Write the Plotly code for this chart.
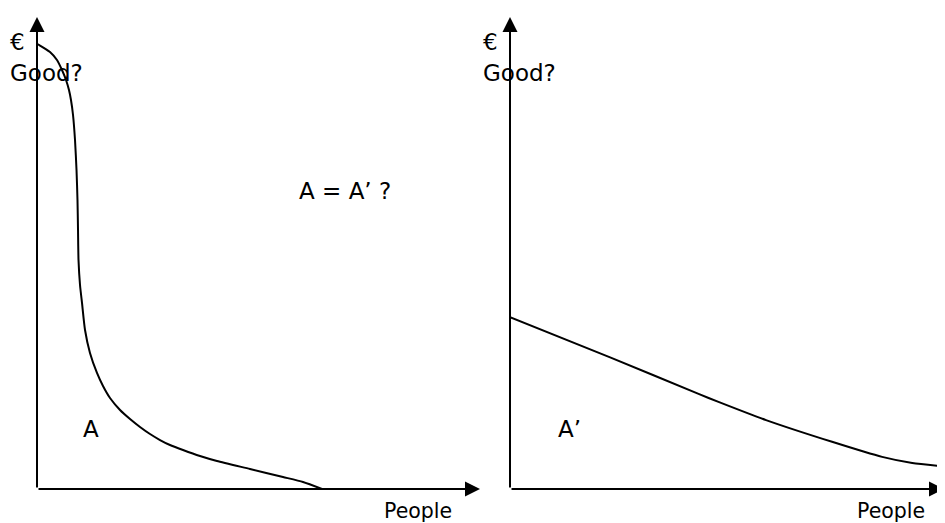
import plotly.graph_objects as go

# Left panel curve (A): steep drop then long tail
left_x = [0, 0.68, 2.93, 4.51, 5.64, 6.55, 7.22, 7.67, 8.13, 8.58, 8.92, 9.14, 9.26, 9.37, 9.71,
          10.16, 10.84, 11.96, 13.54, 14.90, 16.48, 18.74, 21.00, 23.25, 25.51, 27.77, 30.02,
          32.96, 36.79, 40.63, 48.08, 55.53, 60.05, 64.33]
left_y = [94.28, 93.96, 92.58, 90.89, 88.77, 86.65, 84.53, 82.42, 79.24, 73.94, 67.58, 61.23,
          54.87, 48.52, 43.22, 39.41, 33.69, 28.81, 24.58, 21.82, 19.28, 16.74, 14.83, 13.14,
          11.65, 10.38, 9.32, 8.26, 6.99, 5.93, 4.24, 2.54, 1.48, 0]

# Right panel curve (A'): gentle decline
right_x = [0, 22.6, 42.7, 47.2, 57.8, 72.7, 84.0, 90.8, 96.8]
right_y = [36.4, 27.9, 20.1, 18.4, 14.6, 10.0, 6.8, 5.5, 4.9]

y_label_top = "€"
y_label = "Good?"
x_label = "People"
area_left = "A"
area_right = "A’"
question = "A = A’ ?"

# page body has an 8px margin, so the figure is placed at (8, 8)
OFF = 8
W, H = 945 - OFF, 523 - OFF
FONT = "DejaVu Sans"
FS = 23

def px(v):
    return (v - OFF) / W

def py(v):
    return 1 - (v - OFF) / H

fig = go.Figure()
fig.add_trace(go.Scatter(x=left_x, y=left_y, mode="lines", xaxis="x", yaxis="y",
                         line=dict(color="black", width=2, shape="spline", smoothing=0.6),
                         hoverinfo="skip", showlegend=False))
fig.add_trace(go.Scatter(x=right_x, y=right_y, mode="lines", xaxis="x2", yaxis="y2",
                         line=dict(color="black", width=2, shape="spline", smoothing=0.6),
                         hoverinfo="skip", showlegend=False))

ax_common = dict(showgrid=False, zeroline=False, showline=False, showticklabels=False,
                 ticks="", fixedrange=True)
fig.update_layout(
    width=W, height=H, margin=dict(l=0, r=0, t=0, b=0),
    paper_bgcolor="white", plot_bgcolor="white",
    xaxis=dict(domain=[px(37), px(480)], range=[0, 100], **ax_common),
    yaxis=dict(domain=[py(489), py(17)], range=[0, 100], **ax_common),
    xaxis2=dict(domain=[px(510), 1], range=[0, 100 * (945 - 510) / 443], anchor="y2", **ax_common),
    yaxis2=dict(domain=[py(489), py(17)], range=[0, 100], anchor="x2", **ax_common),
    font=dict(family=FONT, color="black"),
)

arrow_style = dict(showarrow=True, arrowhead=2, arrowsize=1.5, arrowwidth=2,
                   arrowcolor="black", text="", standoff=0)
anns = []
# left panel axes
anns.append(dict(x=0, y=100, ax=0, ay=0, xref="x", yref="y", axref="x", ayref="y", **arrow_style))
anns.append(dict(x=100, y=0, ax=0, ay=0, xref="x", yref="y", axref="x", ayref="y", **arrow_style))
# right panel axes
anns.append(dict(x=0, y=100, ax=0, ay=0, xref="x2", yref="y2", axref="x2", ayref="y2", **arrow_style))
# right x axis: its head runs past the right edge of the page
anns.append(dict(x=px(952), y=py(489), ax=-(952 - 510), ay=0, xref="paper", yref="paper",
                 axref="pixel", ayref="pixel", **arrow_style))

def label(text, x, y, anchor="center", size=FS):
    anns.append(dict(text=text, x=px(x), y=py(y), xref="paper", yref="paper",
                     xanchor=anchor, yanchor="middle", showarrow=False,
                     font=dict(family=FONT, size=size, color="black")))

for x0 in (8, 481):
    label(y_label_top, x0, 42, "left")
    label(y_label, x0, 73, "left")
label(x_label, 418, 511, size=20.5)
label(x_label, 891, 511, size=20.5)
label(question, 345, 191)
label(area_left, 91, 429)
label(area_right, 569, 429)

fig.update_layout(annotations=anns)
fig.write_html("out.html")
